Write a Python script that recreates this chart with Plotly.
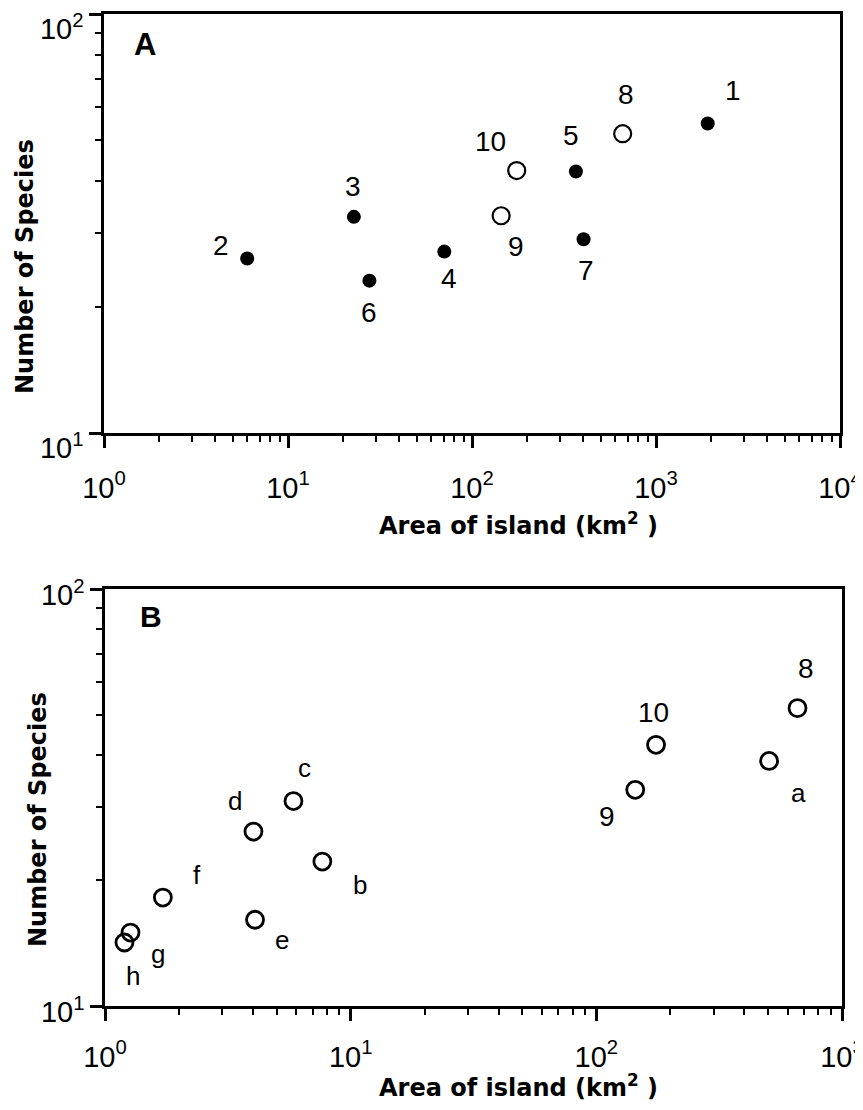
import math
import plotly.graph_objects as go

# ---------------- data ----------------
# Panel A
a_filled_labels = ["1", "2", "3", "4", "5", "6", "7"]
a_filled_area = [1910, 6.0, 22.8, 70.7, 367, 27.7, 404]
a_filled_species = [54.8, 26.1, 32.8, 27.1, 42.1, 23.1, 29.0]

a_open_labels = ["8", "9", "10"]
a_open_area = [659, 144, 175]
a_open_species = [51.8, 33.0, 42.3]

# Panel B
b_labels = ["a", "b", "c", "d", "e", "f", "g", "h", "8", "9", "10"]
b_area = [505, 7.67, 5.85, 4.02, 4.08, 1.72, 1.27, 1.20, 659, 144, 175]
b_species = [38.7, 22.2, 31.0, 26.2, 16.1, 18.2, 15.0, 14.2, 51.8, 33.0, 42.3]

a_xticks = [1, 10, 100, 1000, 10000]
a_xticktext = ["10<sup>0</sup>", "10<sup>1</sup>", "10<sup>2</sup>", "10<sup>3</sup>", "10<sup>4</sup>"]
b_xticks = [1, 10, 100, 1000]
b_xticktext = ["10<sup>0</sup>", "10<sup>1</sup>", "10<sup>2</sup>", "10<sup>3</sup>"]
yticks = [10, 100]
yticktext = ["10<sup>1</sup>", "10<sup>2</sup>"]

# label offsets (pixels, dx right, dy up)
a_off = {"1": (25, 33), "2": (-26, 13), "3": (-1, 30), "4": (5, -27), "5": (-5, 36),
         "6": (0, -32), "7": (2, -31), "8": (3, 39), "9": (15, -31), "10": (-26, 29)}
b_off = {"a": (29, -32), "b": (38, -23), "c": (11, 33), "d": (-18, 31), "e": (27, -20),
         "f": (34, 23), "g": (27, -21), "h": (9, -33), "8": (8, 40), "9": (-28, -27),
         "10": (-3, 32)}

FONT = "Liberation Sans, Arial, Helvetica, sans-serif"
BFONT = "DejaVu Sans, Verdana, sans-serif"

# page layout: the figure sits 8px inside the page (default body margin)
OFF = 8
W, H = 863 - OFF, 1110 - 2 * OFF


def px2x(px):
    return (px - OFF) / W


def px2y(py):
    return 1 - (py - OFF) / H


def minor_vals(lo, hi):
    vals = []
    for e in range(lo, hi):
        for m in range(2, 10):
            vals.append(m * 10 ** e)
    return vals


fig = go.Figure()

fig.add_trace(go.Scatter(x=a_filled_area, y=a_filled_species, mode="markers",
                         marker=dict(symbol="circle", size=14, color="black"),
                         xaxis="x", yaxis="y", showlegend=False))
fig.add_trace(go.Scatter(x=a_open_area, y=a_open_species, mode="markers",
                         marker=dict(symbol="circle-open", size=17, color="black",
                                     line=dict(width=2.2, color="black")),
                         xaxis="x", yaxis="y", showlegend=False))
fig.add_trace(go.Scatter(x=b_area, y=b_species, mode="markers",
                         marker=dict(symbol="circle-open", size=17, color="black",
                                     line=dict(width=2.8, color="black")),
                         xaxis="x2", yaxis="y2", showlegend=False))

annotations = []
for lab, xv, yv in zip(a_filled_labels + a_open_labels, a_filled_area + a_open_area,
                       a_filled_species + a_open_species):
    dx, dy = a_off[lab]
    annotations.append(dict(x=math.log10(xv), y=math.log10(yv), xref="x", yref="y", text=lab,
                            showarrow=False, xshift=dx, yshift=dy, xanchor="center",
                            yanchor="middle", font=dict(family=FONT, size=28, color="black")))
for lab, xv, yv in zip(b_labels, b_area, b_species):
    dx, dy = b_off[lab]
    size = 28 if lab.isdigit() else 26
    annotations.append(dict(x=math.log10(xv), y=math.log10(yv), xref="x2", yref="y2", text=lab,
                            showarrow=False, xshift=dx, yshift=dy, xanchor="center",
                            yanchor="middle", font=dict(family=FONT, size=size, color="black")))

# panel letters
annotations.append(dict(x=px2x(145), y=px2y(44), xref="paper", yref="paper", text="<b>A</b>",
                        showarrow=False, xanchor="center", yanchor="middle",
                        font=dict(family=FONT, size=31, color="black")))
annotations.append(dict(x=px2x(151), y=px2y(616), xref="paper", yref="paper", text="<b>B</b>",
                        showarrow=False, xanchor="center", yanchor="middle",
                        font=dict(family=FONT, size=30, color="black")))

# axis titles
for cx, cy in [(25, 267), (38, 820)]:
    annotations.append(dict(x=px2x(cx), y=px2y(cy), xref="paper", yref="paper",
                            text="<b>Number of Species</b>", textangle=-90, showarrow=False,
                            xanchor="center", yanchor="middle",
                            font=dict(family=BFONT, size=24, color="black")))
for cx, cy in [(518, 524), (518, 1086)]:
    annotations.append(dict(x=px2x(cx), y=px2y(cy), xref="paper", yref="paper",
                            text="<b>Area of island (km<sup>2</sup> )</b>", showarrow=False,
                            xanchor="center", yanchor="middle",
                            font=dict(family=BFONT, size=24, color="black")))

common = dict(type="log", showgrid=False, zeroline=False, showline=True, linecolor="black",
              linewidth=2.5, mirror=True, ticks="outside", ticklen=12, tickwidth=2.5,
              tickcolor="black", tickmode="array", ticklabeloverflow="allow",
              tickfont=dict(family=FONT, size=29, color="black"))

minor_style = dict(ticks="outside", ticklen=6, tickwidth=2, tickcolor="black", showgrid=False)

fig.update_layout(
    width=W, height=H, margin=dict(l=0, r=0, t=0, b=0, autoexpand=False),
    paper_bgcolor="white", plot_bgcolor="white",
    showlegend=False,
    xaxis=dict(common, domain=[px2x(104), px2x(840)], range=[0, 4], anchor="y",
               tickvals=a_xticks, ticktext=a_xticktext, ticklabelstandoff=15,
               minor=dict(minor_style, tickvals=minor_vals(0, 4))),
    yaxis=dict(common, domain=[px2y(433), px2y(14)], range=[1, 2], anchor="x",
               tickvals=yticks, ticktext=yticktext, ticklabelshift=15,
               minor=dict(minor_style, tickvals=minor_vals(1, 2))),
    xaxis2=dict(common, domain=[px2x(105), px2x(842)], range=[0, 3], anchor="y2",
                tickvals=b_xticks, ticktext=b_xticktext, ticklabelstandoff=11,
                minor=dict(minor_style, tickvals=minor_vals(0, 3))),
    yaxis2=dict(common, domain=[px2y(1006), px2y(589)], range=[1, 2], anchor="x2",
                tickvals=yticks, ticktext=yticktext, ticklabelshift=6,
                minor=dict(minor_style, tickvals=minor_vals(1, 2))),
    annotations=annotations,
)

fig.write_html("out.html")
